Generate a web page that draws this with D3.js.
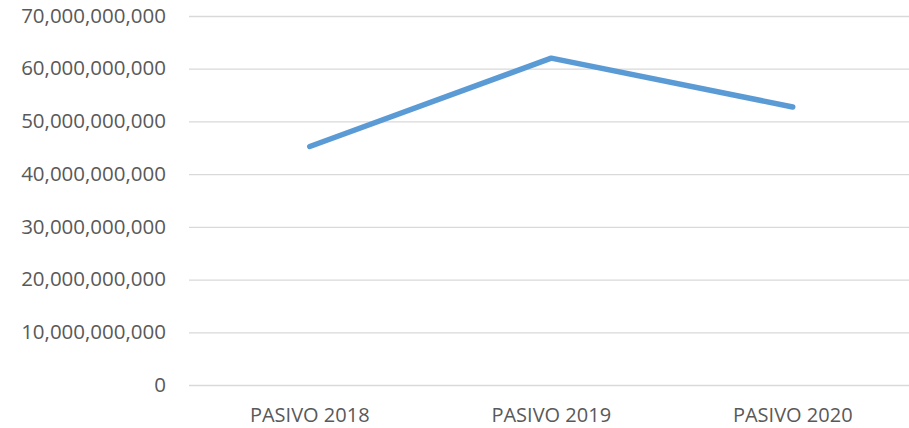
<!DOCTYPE html>
<html>
<head>
<meta charset="utf-8">
<script src="https://cdn.jsdelivr.net/npm/d3@7"></script>
<style>
    body { margin: 0; background: #fff; }
    svg { display: block; }
    .tick text { font-family: "Open Sans", sans-serif; fill: #595959; }
</style>
</head>
<body>
<svg id="chart" width="909" height="428"></svg>
<script>
// values
let categories = ['PASIVO 2018', 'PASIVO 2019', 'PASIVO 2020'];
let pasivo = [45250000000, 62000000000, 52750000000];
let yTicks = [0, 10e9, 20e9, 30e9, 40e9, 50e9, 60e9, 70e9];

function plotPasivo() {
    let svg = d3.select('#chart');

    let margin = {top: 16, right: 0, bottom: 43, left: 189},
        width = 724.5,
        height = +svg.attr('height') - margin.top - margin.bottom;

    let g = svg.append('g')
        .attr('transform', 'translate(' + margin.left + ',' + margin.top + ')');

    let x = d3.scaleBand().range([0, width]).padding(0)
        .domain(categories);

    let y = d3.scaleLinear().range([height, 0])
        .domain([0, 70e9]);

    let yAxis = d3.axisLeft(y)
        .tickValues(yTicks)
        .tickSize(-width)
        .tickFormat(d3.format(','));

    function customYAxis(g) {
        g.call(yAxis);
        g.select('.domain').remove();
        g.selectAll('.tick line').attr('stroke', '#d9d9d9').attr('stroke-width', 1.3);
        g.selectAll('.tick text').attr('x', -23).attr('dy', '0.3em').style('font-size', '20.5px');
    }

    let xAxis = d3.axisBottom(x).tickSize(0);

    function customXAxis(g) {
        g.call(xAxis);
        g.select('.domain').remove();
        g.selectAll('.tick text').attr('y', 23).attr('dy', '0.71em').style('font-size', '20px');
    }

    g.append('g').call(customYAxis);

    g.append('g')
        .attr('transform', 'translate(0,' + height + ')')
        .call(customXAxis);

    let line = d3.line()
        .x(function(d, i) { return x(categories[i]) + x.bandwidth() / 2; })
        .y(function(d) { return y(d); });

    g.append('path')
        .datum(pasivo)
        .attr('fill', 'none')
        .attr('stroke', '#5b9bd5')
        .attr('stroke-width', 5.5)
        .attr('stroke-linecap', 'round')
        .attr('stroke-linejoin', 'round')
        .attr('d', line);
}

plotPasivo();
</script>
</body>
</html>
